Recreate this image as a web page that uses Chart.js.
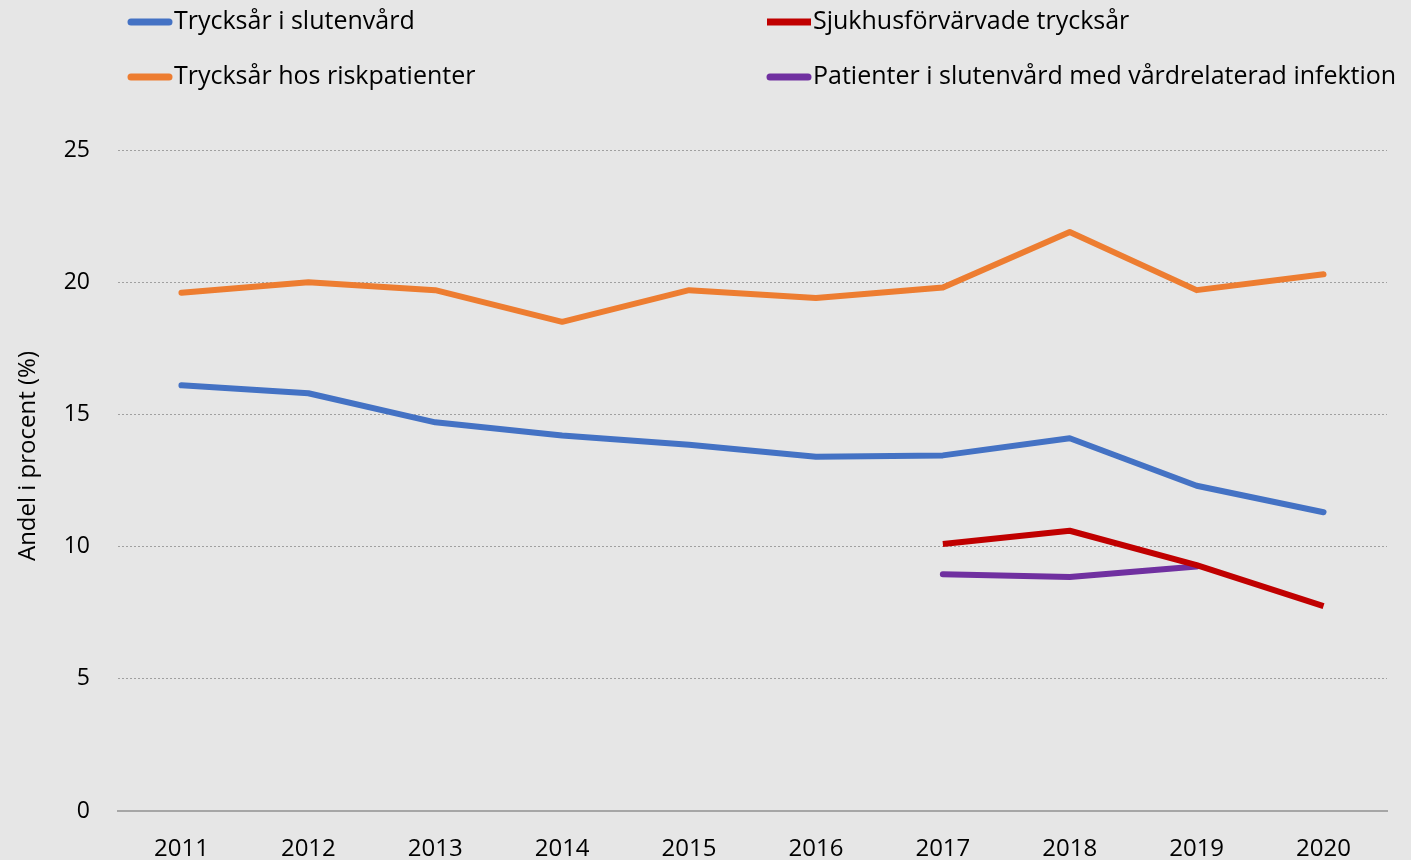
<!DOCTYPE html>
<html>
<head>
<meta charset="utf-8">
<script src="https://cdn.jsdelivr.net/npm/chart.js@4"></script>
<style>
  html, body { margin: 0; padding: 0; background: #e6e6e6; }
  #wrap { width: 1411px; height: 860px; position: relative; }
</style>
</head>
<body>
<div id="wrap"><canvas id="chart"></canvas></div>
<script>
const years = ["2011", "2012", "2013", "2014", "2015", "2016", "2017", "2018", "2019", "2020"];
const tryckSlutenvard = [16.1, 15.8, 14.7, 14.2, 13.85, 13.4, 13.45, 14.1, 12.3, 11.3];
const tryckRisk = [19.6, 20.0, 19.7, 18.5, 19.7, 19.4, 19.8, 21.9, 19.7, 20.3];
const sjukhusforvarvade = [null, null, null, null, null, null, 10.1, 10.6, 9.3, 7.75];
const vardrelateradInfektion = [null, null, null, null, null, null, 8.95, 8.85, 9.25, null];
const yTitle = "Andel i procent (%)";

const FONT = "'Open Sans', sans-serif";

const legendPositions = [
  { x: 128, y: 22 },
  { x: 128, y: 77 },
  { x: 767, y: 22 },
  { x: 767, y: 77 },
];

// legend in two columns + rotated y title, drawn by hand
const gridLegendPlugin = {
  id: "gridLegend",
  afterDraw(chart) {
    const ctx = chart.ctx;
    ctx.save();
    ctx.font = `25px ${FONT}`;
    ctx.textBaseline = "middle";
    ctx.fillStyle = "#000";
    chart.data.datasets.forEach((ds, i) => {
      const pos = legendPositions[i];
      ctx.strokeStyle = ds.borderColor;
      ctx.lineWidth = 7;
      ctx.lineCap = ds.borderCapStyle || "butt";
      ctx.beginPath();
      const inset = ctx.lineCap === "round" ? 3 : 0;
      ctx.moveTo(pos.x + inset, pos.y);
      ctx.lineTo(pos.x + 44 - inset, pos.y);
      ctx.stroke();
      ctx.fillText(ds.label, pos.x + 46, pos.y);
    });

    ctx.translate(28, 456);
    ctx.rotate(-Math.PI / 2);
    ctx.textAlign = "center";
    ctx.font = `24px ${FONT}`;
    ctx.fillText(yTitle, 0, 0);
    ctx.restore();
  },
};

const bgPlugin = {
  id: "bg",
  beforeDraw(chart) {
    const ctx = chart.ctx;
    ctx.save();
    ctx.fillStyle = "#e6e6e6";
    ctx.fillRect(0, 0, chart.width, chart.height);
    ctx.restore();
  },
};

const lineDefaults = {
  backgroundColor: "transparent",
  pointRadius: 0,
  pointHoverRadius: 0,
  borderWidth: 6,
  tension: 0,
  borderJoinStyle: "round",
  spanGaps: false,
};

new Chart(document.getElementById("chart").getContext("2d"), {
  type: "line",
  plugins: [bgPlugin, gridLegendPlugin],
  data: {
    labels: years,
    datasets: [
      { ...lineDefaults, label: "Trycksår i slutenvård", data: tryckSlutenvard, borderColor: "#4472c4", borderCapStyle: "round" },
      { ...lineDefaults, label: "Trycksår hos riskpatienter", data: tryckRisk, borderColor: "#ed7d31", borderCapStyle: "round" },
      { ...lineDefaults, label: "Sjukhusförvärvade trycksår", data: sjukhusforvarvade, borderColor: "#c00000", borderCapStyle: "butt" },
      { ...lineDefaults, label: "Patienter i slutenvård med vårdrelaterad infektion", data: vardrelateradInfektion, borderColor: "#7030a0", borderCapStyle: "round" },
    ],
  },
  options: {
    responsive: true,
    maintainAspectRatio: false,
    animation: false,
    devicePixelRatio: 1,
    layout: {
      padding: { top: 150, right: 24, bottom: 0, left: 0 },
    },
    plugins: {
      legend: { display: false },
      tooltip: { enabled: false },
    },
    scales: {
      x: {
        offset: true,
        grid: { display: false, drawTicks: false },
        border: { display: true, color: "#a6a6a6", width: 2 },
        ticks: {
          color: "#000",
          font: { family: FONT, size: 24 },
          padding: 24,
          maxRotation: 0,
          autoSkip: false,
        },
        afterFit(scale) {
          scale.height = 49;
        },
      },
      y: {
        min: 0,
        max: 25,
        ticks: {
          stepSize: 5,
          color: "#000",
          font: { family: FONT, size: 23 },
          padding: 28,
        },
        grid: {
          drawTicks: false,
          color: "#a0a0a0",
          lineWidth: (c) => (c.tick && c.tick.value === 0 ? 0 : 1),
        },
        border: { display: false, dash: [2, 2] },
        afterFit(scale) {
          scale.width = 118;
        },
      },
    },
  },
});
</script>
</body>
</html>
